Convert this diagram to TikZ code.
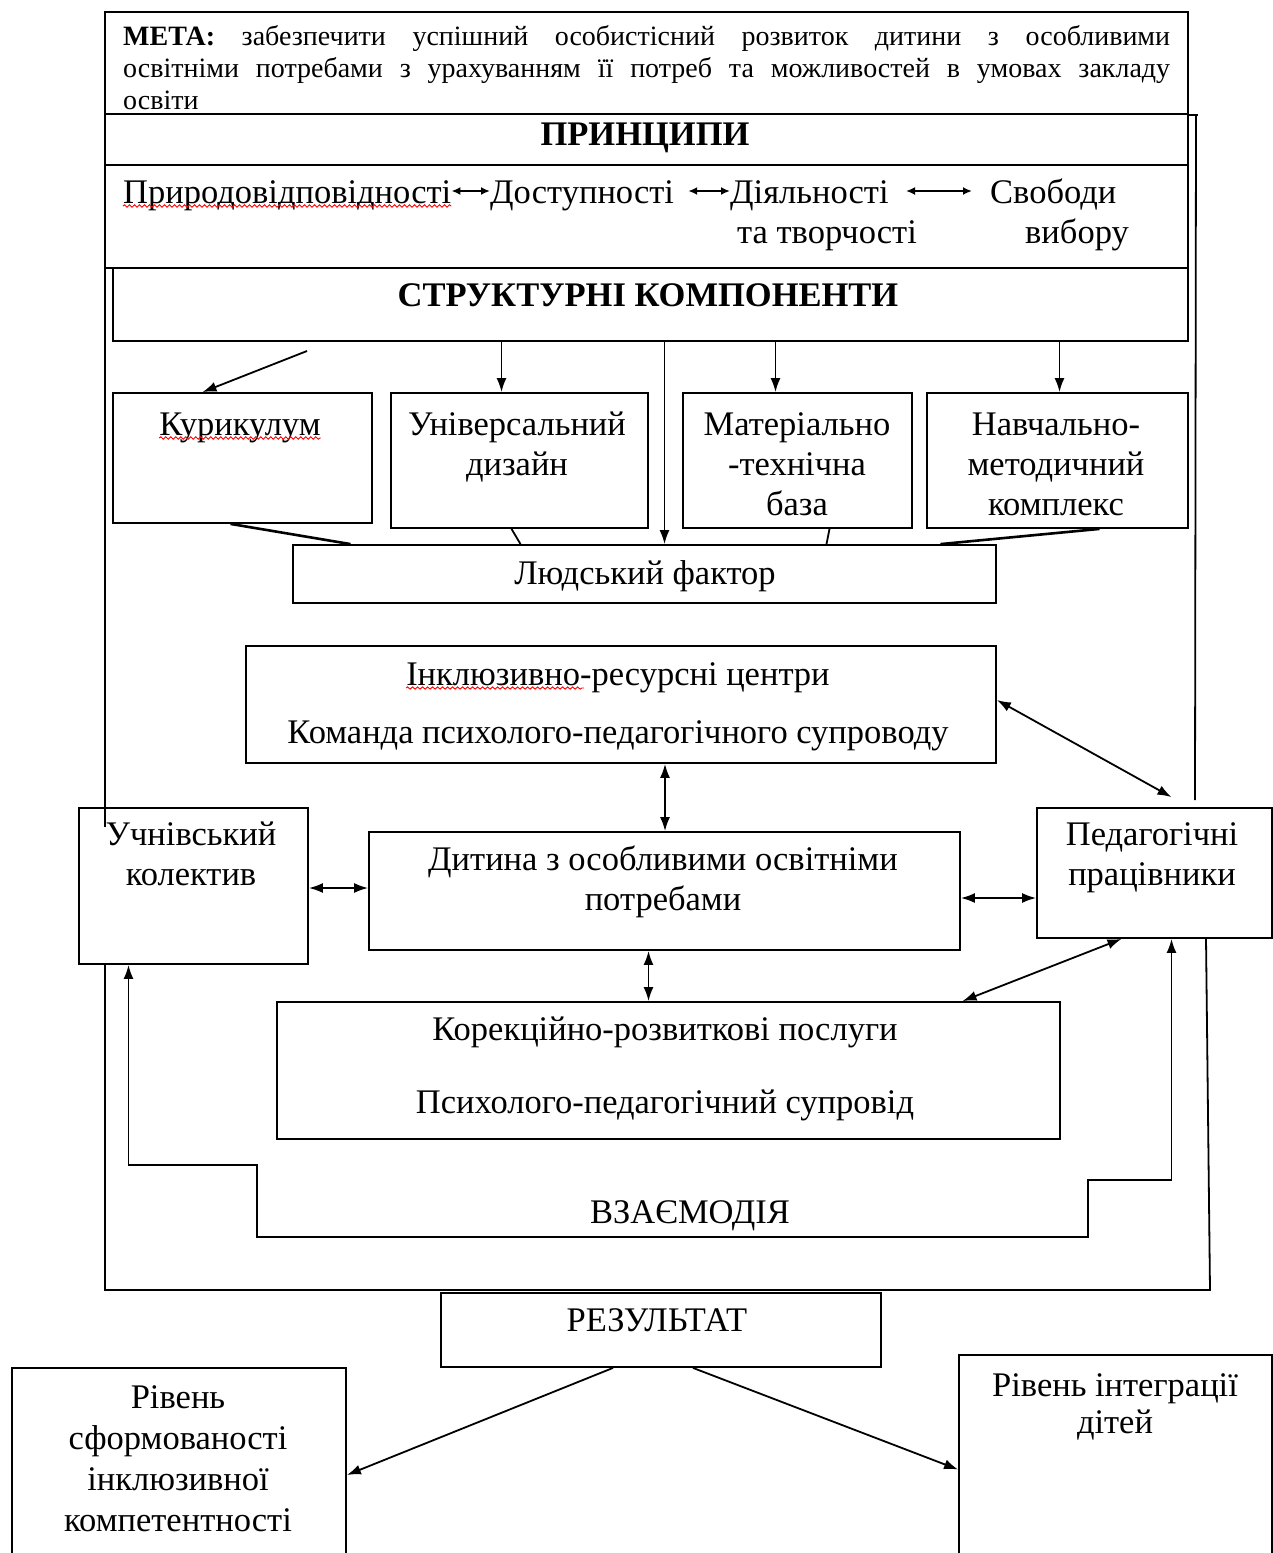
\documentclass[tikz,border=0pt]{standalone}
\usepackage{fontspec}
\setmainfont{Liberation Serif}
\usetikzlibrary{arrows.meta,decorations.pathmorphing}
\begin{document}
\begin{tikzpicture}[x=1pt,y=-1pt,
	box/.style={draw,line width=1.8pt,inner sep=0pt},
	txt/.style={inner sep=0pt,anchor=north,align=center,text height=#1,font=\fontsize{34.5}{40}\selectfont},
	txt/.default=24pt,
	ln/.style={line width=1.8pt},
	arr/.style={line width=1.8pt,-{Latex[length=14pt,width=10pt]}},
	darr/.style={line width=1.8pt,{Latex[length=14pt,width=10pt]}-{Latex[length=14pt,width=10pt]}},
	darrs/.style={line width=1.8pt,{Latex[length=9pt,width=8pt]}-{Latex[length=9pt,width=8pt]}},
	wavy/.style={red,line width=0.9pt,decorate,decoration={snake,amplitude=1.2pt,segment length=5pt}}]
	\useasboundingbox (0,0) rectangle (1273,1553);
	% meta and principles
	\node[box,minimum width=1083pt,minimum height=102pt] (meta) at (646.5,63) {};
	\node[box,minimum width=1083pt,minimum height=51pt] (prin) at (646.5,139.5) {};
	\node[box,minimum width=1083pt,minimum height=103pt] (prow) at (646.5,216.5) {};
	\node[box,minimum width=1075pt,minimum height=73pt] (struct) at (650.5,304.5) {};
	\node[inner sep=0pt,anchor=north west,text width=1047pt,align=justify,font=\fontsize{28}{32}\selectfont] (metaT) at (123,25)
		{\textbf{МЕТА:} забезпечити успішний особистісний розвиток дитини з особливими\linebreak освітніми потребами з урахуванням її потреб та можливостей в умовах закладу\linebreak освіти};
	\node[txt,font=\fontsize{34.5}{40}\selectfont\bfseries] (prinT) at (645,121) {ПРИНЦИПИ};
	\node[txt,anchor=north west] (prir) at (123,179) {Природовідповідності};
	\node[txt,anchor=north west] (dost) at (490,179) {Доступності};
	\node[txt=64pt,anchor=north west,align=left] (diyal) at (730,179) {Діяльності\\\hspace*{7pt}та творчості};
	\node[txt=64pt,anchor=north west,align=left] (svob) at (990,179) {Свободи\\\hspace*{35pt}вибору};
	\draw[darrs] ([yshift=-12pt]prir.north east) -- ([yshift=-12pt]dost.north west);
	\draw[darrs] ([yshift=-12pt,xshift=14pt]dost.north east) -- ([yshift=-12pt]diyal.north west);
	\draw[darrs] ([yshift=-12pt,xshift=-84pt]svob.north west) -- ([yshift=-12pt,xshift=-18pt]svob.north west);
	\draw[wavy] ([yshift=-27pt]prir.north west) -- ([yshift=-27pt]prir.north east);
	\node[txt,font=\fontsize{34.5}{40}\selectfont\bfseries] (structT) at (648,282) {СТРУКТУРНІ КОМПОНЕНТИ};
	% components
	\node[box,minimum width=259pt,minimum height=130pt] (kur) at (242.5,458) {};
	\node[box,minimum width=257pt,minimum height=135pt] (dyz) at (519.5,460.5) {};
	\node[box,minimum width=229pt,minimum height=135pt] (mat) at (797.5,460.5) {};
	\node[box,minimum width=261pt,minimum height=135pt] (nav) at (1057.5,460.5) {};
	\node[box,minimum width=703pt,minimum height=58pt] (lud) at (644.5,574) {};
	\node[txt] (kurT) at (240,411) {Курикулум};
	\node[txt=64pt] (dyzT) at (517,411) {Універсальний\\дизайн};
	\node[txt=104pt] (matT) at (797,411) {Матеріально\\-технічна\\база};
	\node[txt=104pt] (navT) at (1056,411) {Навчально-\\методичний\\комплекс};
	\node[txt] (ludT) at (645,560) {Людський фактор};
	\draw[wavy] ([yshift=-27pt]kurT.north west) -- ([yshift=-27pt]kurT.north east);
	\coordinate (kurS) at (307,351);
	\draw[arr] (kurS) -- ([xshift=-40pt]kur.north);
	\draw[arr] ([xshift=-18pt]dyz.north |- struct.south) -- ([xshift=-18pt]dyz.north);
	\draw[arr] ([xshift=-22pt]mat.north |- struct.south) -- ([xshift=-22pt]mat.north);
	\draw[arr] ([xshift=2pt]nav.north |- struct.south) -- ([xshift=2pt]nav.north);
	\draw[arr] ([xshift=20pt]lud.north |- struct.south) -- ([xshift=20pt]lud.north);
	\draw[line width=2.6pt] ([xshift=-12pt]kur.south) -- ([xshift=-294pt]lud.north);
	\draw[ln] ([xshift=-8pt]dyz.south) -- ([xshift=-124pt]lud.north);
	\draw[ln] ([xshift=32pt]mat.south) -- ([xshift=182pt]lud.north);
	\draw[line width=2.6pt] ([xshift=42pt]nav.south) -- ([xshift=296pt]lud.north);
	% centre
	\node[box,minimum width=750pt,minimum height=117pt] (irc) at (621,704.5) {};
	\node[box,minimum width=591pt,minimum height=118pt] (dyt) at (664.5,891) {};
	\node[box,minimum width=229pt,minimum height=156pt] (uch) at (193.5,886) {};
	\node[box,minimum width=235pt,minimum height=130pt] (ped) at (1154.5,873) {};
	\node[box,minimum width=783pt,minimum height=137pt] (kor) at (668.5,1070.5) {};
	\node[txt] (ircA) at (618,661) {Інклюзивно-ресурсні центри};
	\node[txt] (ircB) at (618,719) {Команда психолого-педагогічного супроводу};
	\draw[wavy] ([yshift=-27pt]ircA.north west) -- ([yshift=-27pt,xshift=178pt]ircA.north west);
	\node[txt=64pt] (dytT) at (663,846) {Дитина з особливими освітніми\\потребами};
	\node[txt=64pt] (uchT) at (191,821) {Учнівський\\колектив};
	\node[txt=64pt] (pedT) at (1152,821) {Педагогічні\\працівники};
	\node[txt] (korA) at (665,1016) {Корекційно-розвиткові послуги};
	\node[txt] (korB) at (665,1089) {Психолого-педагогічний супровід};
	\node[txt] (vzT) at (690,1199) {ВЗАЄМОДІЯ};
	\draw[darr] ([xshift=44pt]irc.south) -- ([xshift=0.5pt]dyt.north);
	\draw[darr] ([yshift=-2pt]uch.east) -- ([yshift=-2pt]uch.east -| dyt.west);
	\draw[darr] ([yshift=-7pt]dyt.east) -- ([yshift=-7pt]dyt.east -| ped.west);
	\draw[darr] ([yshift=4.5pt]irc.east) -- ([xshift=17pt,yshift=10pt]ped.north);
	\draw[darr] ([xshift=-16pt]dyt.south) -- ([xshift=-16pt]dyt.south |- kor.north);
	\draw[darr] ([xshift=294pt]kor.north) -- ([xshift=-33pt]ped.south);
	\draw[darr] ([xshift=-65pt]uch.south) |- (257,1165) -- (257,1237) -- (1088,1237) -- (1088,1180) -| ([xshift=17pt]ped.south);
	% frame
	\draw[ln] (105,12) -- (105,827);
	\draw[ln] (meta.south east) -- ++(9,0);
	\draw[ln] (1196,114) -- (1195,800);
	\draw[ln] (105,964) -- (105,1290) -- (1210,1290) -- (1206,938);
	% result
	\node[box,minimum width=440pt,minimum height=74pt] (rez) at (661,1330) {};
	\node[box,minimum width=334pt,minimum height=202pt] (rl) at (179,1469) {};
	\node[box,minimum width=313pt,minimum height=215pt] (rr) at (1115.5,1462.5) {};
	\node[txt] (rezT) at (657,1307) {РЕЗУЛЬТАТ};
	\node[txt=147pt] (rlT) at (178,1384) {Рівень\\[1pt]сформованості\\[1pt]інклюзивної\\[1pt]компетентності};
	\node[txt=61pt] (rrT) at (1115,1372) {Рівень інтеграції\\[-3pt]дітей};
	\draw[arr] ([xshift=-48pt]rez.south) -- ([yshift=-6pt]rl.east);
	\draw[arr] ([xshift=32pt]rez.south) -- ([yshift=-7pt]rr.west);
\end{tikzpicture}
\end{document}
